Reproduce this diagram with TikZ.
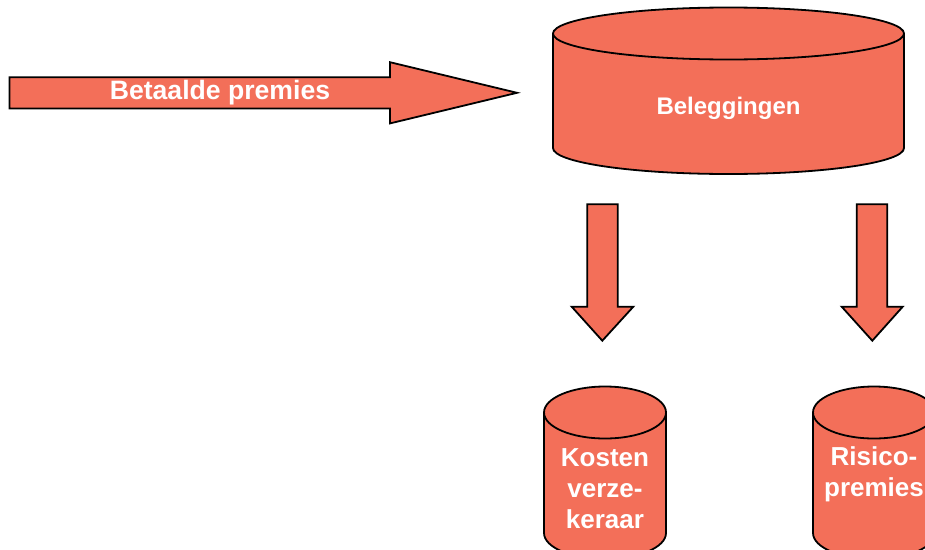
\documentclass[tikz,border=0pt]{standalone}
\usepackage{fontspec}
\setmainfont{Liberation Sans}
\definecolor{salmon}{HTML}{F36F59}
\tikzset{
  shapefill/.style={fill=salmon, draw=black, line width=1.8pt, line join=miter},
  whitetext/.style={text=white, font=\bfseries, inner sep=0pt, align=center},
}
\begin{document}
\begin{tikzpicture}[x=1pt,y=-1pt]
\useasboundingbox (0,0) rectangle (925,549);
% big arrow
\path[shapefill] (9.5,77.2) -- (390,77.2) -- (390,62.2) -- (517,92.8) -- (390,123.4) -- (390,108.4) -- (9.5,108.4) -- cycle;
\node[whitetext, anchor=base, font=\fontsize{26.6}{30}\selectfont\bfseries] (betaald) at (220,99.6) {Betaalde premies};
% big cylinder
\path[shapefill] (553,33.5) -- (553,148) arc[start angle=180,end angle=360,x radius=175.5pt,y radius=26pt] -- (904,33.5) arc[start angle=0,end angle=180,x radius=175.5pt,y radius=26pt] -- cycle;
\draw[line width=1.8pt] (553,33.5) arc[start angle=180,end angle=360,x radius=175.5pt,y radius=26pt];
\node[whitetext, anchor=base, font=\fontsize{24}{28}\selectfont\bfseries] (beleg) at (728.5,114) {Beleggingen};
% down arrows
\path[shapefill] (587.3,204.3) -- (617.7,204.3) -- (617.7,306.7) -- (633.3,306.7) -- (602.3,340.7) -- (571.7,306.7) -- (587.3,306.7) -- cycle;
\path[shapefill] (856.7,204.3) -- (887.3,204.3) -- (887.3,306.7) -- (902.7,306.7) -- (872.3,340.7) -- (841.7,306.7) -- (856.7,306.7) -- cycle;
% small cylinders
\path[shapefill] (544,412.5) -- (544,533) arc[start angle=180,end angle=360,x radius=61pt,y radius=26pt] -- (666,412.5) arc[start angle=0,end angle=180,x radius=61pt,y radius=26pt] -- cycle;
\draw[line width=1.8pt] (544,412.5) arc[start angle=180,end angle=360,x radius=61pt,y radius=26pt];
\path[shapefill] (813,412.5) -- (813,533) arc[start angle=180,end angle=360,x radius=61pt,y radius=26pt] -- (935,412.5) arc[start angle=0,end angle=180,x radius=61pt,y radius=26pt] -- cycle;
\draw[line width=1.8pt] (813,412.5) arc[start angle=180,end angle=360,x radius=61pt,y radius=26pt];
\node[whitetext, anchor=base, font=\fontsize{26}{30.8}\selectfont\bfseries] (kosten) at (605,528.3) {Kosten\\verze-\\keraar};
\node[whitetext, anchor=base, font=\fontsize{26}{30.8}\selectfont\bfseries] (risico) at (874,496.5) {Risico-\\premies};
\end{tikzpicture}
\end{document}
